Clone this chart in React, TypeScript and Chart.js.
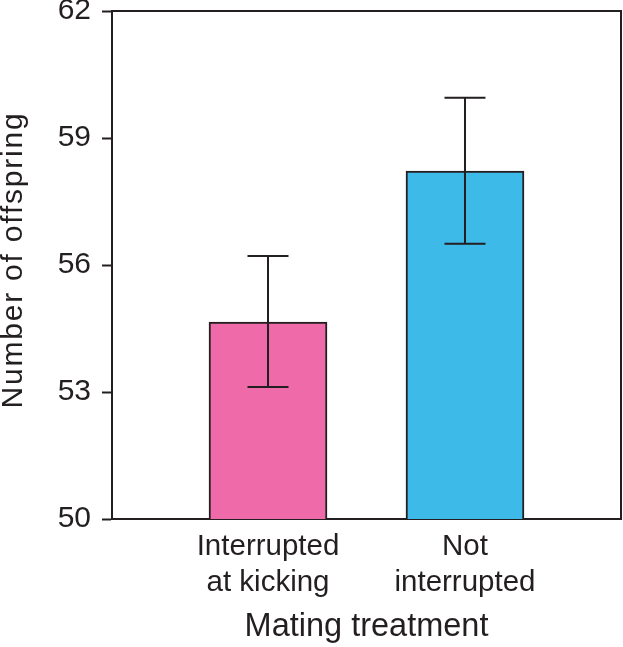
import React, { useEffect, useRef } from "react";
import { Chart, registerables } from "chart.js";

Chart.register(...registerables);

const categories: string[][] = [["Interrupted", "at kicking"], ["Not", "interrupted"]];
const positions = [1, 2];
const means = [54.65, 58.22];
const errLow = [53.12, 56.5];
const errHigh = [56.21, 59.95];
const barColors = ["#EF6AA8", "#3EBAE8"];
const yTicks = [50, 53, 56, 59, 62];
const yTitle = "Number of offspring";
const xTitle = "Mating treatment";

const INK = "#231F20";
const FONT = "'Liberation Sans', Arial, sans-serif";

const errorBarPlugin = {
  id: "errorBars",
  afterDatasetsDraw(chart: any) {
    const { ctx, scales } = chart;
    const xs = scales.x;
    const ys = scales.y;
    ctx.save();
    ctx.strokeStyle = INK;
    ctx.lineWidth = 2;
    const cap = 20.5;
    positions.forEach((p, i) => {
      const x = xs.getPixelForValue(p);
      const yT = ys.getPixelForValue(errHigh[i]);
      const yB = ys.getPixelForValue(errLow[i]);
      ctx.beginPath();
      ctx.moveTo(x, yT);
      ctx.lineTo(x, yB);
      ctx.moveTo(x - cap, yT);
      ctx.lineTo(x + cap, yT);
      ctx.moveTo(x - cap, yB);
      ctx.lineTo(x + cap, yB);
      ctx.stroke();
    });
    ctx.restore();
  },
};

const framePlugin = {
  id: "frame",
  afterDraw(chart: any) {
    const { ctx, chartArea } = chart;
    ctx.save();
    ctx.strokeStyle = INK;
    ctx.lineWidth = 2;
    ctx.beginPath();
    ctx.moveTo(chartArea.left, chartArea.top);
    ctx.lineTo(chartArea.right, chartArea.top);
    ctx.lineTo(chartArea.right, chartArea.bottom);
    ctx.stroke();

    // y-axis title, drawn with the letter spacing seen in the reference
    ctx.fillStyle = INK;
    ctx.font = `30px ${FONT}`;
    (ctx as any).letterSpacing = "1.8px";
    ctx.textAlign = "center";
    ctx.textBaseline = "alphabetic";
    ctx.translate(22, (chartArea.top + chartArea.bottom) / 2 - 5);
    ctx.rotate(-Math.PI / 2);
    ctx.fillText(yTitle, 0, 0);
    ctx.restore();
  },
};

export default function App() {
  const ref = useRef<HTMLCanvasElement | null>(null);

  useEffect(() => {
    document.body.style.margin = "0";
    if (!ref.current) return;
    const chart = new Chart(ref.current, {
      type: "bar",
      data: {
        datasets: [
          {
            data: positions.map((p, i) => ({ x: p, y: means[i] })),
            backgroundColor: barColors,
            borderColor: INK,
            borderWidth: 2,
            borderSkipped: "bottom",
            barThickness: 118,
          } as any,
        ],
      },
      options: {
        animation: false,
        responsive: false,
        maintainAspectRatio: false,
        layout: { padding: { top: 11, right: 2, left: 0, bottom: 0 } },
        plugins: { legend: { display: false }, tooltip: { enabled: false } },
        scales: {
          x: {
            type: "linear",
            offset: false,
            min: 0.208,
            max: 2.792,
            afterBuildTicks: (scale: any) => {
              scale.ticks = positions.map((v) => ({ value: v }));
            },
            afterFit: (scale: any) => {
              scale.height = 128;
              scale.paddingLeft = 0;
              scale.paddingRight = 0;
            },
            ticks: {
              autoSkip: false,
              maxRotation: 0,
              padding: 10,
              color: INK,
              font: { family: FONT, size: 29.5, lineHeight: 1.22 },
              callback: (_v: any, i: number) => categories[i],
            },
            grid: { display: false, drawTicks: false, offset: false },
            border: { display: true, color: INK, width: 2 },
            title: {
              display: true,
              text: xTitle,
              color: INK,
              font: { family: FONT, size: 32.5 },
              padding: { top: 0, bottom: 0 },
            },
          },
          y: {
            min: 50,
            max: 62,
            afterBuildTicks: (scale: any) => {
              scale.ticks = yTicks.map((v) => ({ value: v }));
            },
            afterFit: (scale: any) => {
              scale.width = 112;
              scale.paddingTop = 0;
              scale.paddingBottom = 0;
            },
            ticks: {
              padding: 11,
              color: INK,
              font: { family: FONT, size: 30 },
            },
            grid: {
              drawOnChartArea: false,
              drawTicks: true,
              tickLength: 10,
              tickWidth: 2,
              tickColor: INK,
            },
            border: { display: true, color: INK, width: 2 },
            title: { display: false },
          },
        },
      },
      plugins: [errorBarPlugin, framePlugin],
    });
    return () => chart.destroy();
  }, []);

  return (
    <div style={{ position: "absolute", left: 0, top: 0, width: 623, height: 647 }}>
      <canvas ref={ref} width={623} height={647} style={{ display: "block", width: 623, height: 647 }} />
    </div>
  );
}
